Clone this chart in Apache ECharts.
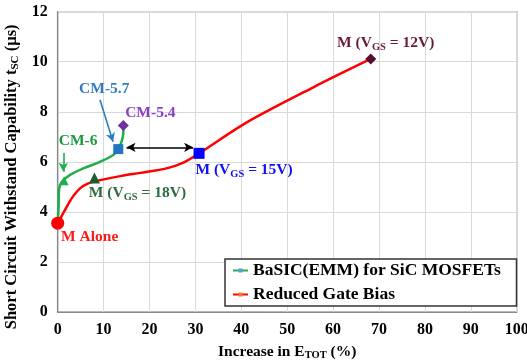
<!DOCTYPE html>
<html>
<head>
<meta charset="utf-8">
<script src="https://cdn.jsdelivr.net/npm/echarts@6/dist/echarts.min.js"></script>
<style>
  html, body { margin: 0; padding: 0; background: #fff; }
  #chart { width: 527px; height: 361px; }
</style>
</head>
<body>
<div id="chart"></div>
<script>
// Short-circuit withstand time vs. increase in total switching energy
const FONT = '"Liberation Serif", "Times New Roman", serif';

const xTicks = { min: 0, max: 100, interval: 10 };
const yTicks = { min: 0, max: 12, interval: 2 };

// BaSIC(EMM) curve: M alone -> CM-6 -> CM-5.7 -> CM-5.4
const basicCurve = [
  [0, 3.55], [0.2, 4.2], [0.3, 4.9], [0.9, 5.2], [2.7, 5.48], [5.6, 5.74],
  [9.2, 6.0], [12.1, 6.27], [13.2, 6.51], [13.9, 6.8], [14.3, 7.15], [14.3, 7.45]
];

// Reduced gate bias curve: M alone -> 18 V -> 15 V -> 12 V
const gateBiasCurve = [
  [0, 3.55], [1.6, 4.08], [3.05, 4.54], [4.86, 4.94], [6.67, 5.14], [8.78, 5.25],
  [13.9, 5.44], [18.0, 5.56], [23.7, 5.74], [27.5, 5.98], [30.8, 6.34],
  [41.2, 7.58], [55.7, 8.98], [68.2, 10.11]
];

// Named operating points
const pointNames  = ['M Alone', 'CM-6', 'CM-5.7', 'CM-5.4', 'M18', 'M15', 'M12'];
const pointValues = [[0, 3.55], [1.4, 5.24], [13.2, 6.51], [14.3, 7.45], [8.0, 5.35], [30.8, 6.34], [68.2, 10.11]];
const pointLabels = [
  'M Alone', 'CM-6', 'CM-5.7', 'CM-5.4',
  'M (V{s|GS} = 18V)', 'M (V{s|GS} = 15V)', 'M (V{s|GS} = 12V)'
];

// Arrows: [start, end]
const arrowCM57 = [[9.2, 8.48], [12.07, 6.8]];
const arrowCM6  = [[1.22, 6.35], [1.22, 5.6]];
const arrowGap  = [[15.0, 6.58], [29.5, 6.58]];

const legendNames = ['BaSIC(EMM) for SiC MOSFETs', 'Reduced Gate Bias'];

const pointStyle = {
  'M Alone': { symbol: 'circle',   size: 13, color: '#ff0000', text: '#ff1a1a', offset: [32, 14] },
  'CM-6':    { symbol: 'triangle', size: 9,  color: '#1fae4e', text: '#1a9a3c', offset: [14, -40] },
  'CM-5.7':  { symbol: 'rect',     size: 10, color: '#1f77c0', text: '#2e7dc0', offset: [-14, -60] },
  'CM-5.4':  { symbol: 'diamond',  size: 11, color: '#7030a0', text: '#8a3cc8', offset: [27, -13] },
  'M18':     { symbol: 'triangle', size: 11, color: '#1e5a32', text: '#2f6b3f', offset: [43, 15] },
  'M15':     { symbol: 'rect',     size: 11, color: '#0000ff', text: '#1010f0', offset: [45, 17] },
  'M12':     { symbol: 'diamond',  size: 11, color: '#5a0a30', text: '#6a1a3a', offset: [15, -16] }
};

function subRich(color, size) {
  return {
    s: { fontSize: size, fontWeight: 'bold', fontFamily: FONT, color: color, verticalAlign: 'bottom', lineHeight: size }
  };
}

const pointSeries = pointNames.map((name, i) => {
  const st = pointStyle[name];
  return {
    type: 'scatter',
    name: name,
    data: [pointValues[i]],
    symbol: st.symbol,
    symbolSize: st.size,
    itemStyle: { color: st.color, opacity: 1 },
    z: 5,
    label: {
      show: true,
      formatter: pointLabels[i],
      position: 'inside',
      offset: st.offset,
      color: st.text,
      fontFamily: FONT,
      fontWeight: 'bold',
      fontSize: 15.5,
      lineHeight: 19,
      rich: subRich(st.text, 10.5)
    }
  };
});

function arrowLine(pair, color, bothEnds) {
  return [
    { coord: pair[0], symbol: bothEnds ? 'arrow' : 'none', symbolSize: [7, 9], lineStyle: { color: color, width: 1.6, type: 'solid' } },
    { coord: pair[1], symbol: 'arrow', symbolSize: [7, 9] }
  ];
}

const chart = echarts.init(document.getElementById('chart'));
chart.setOption({
  animation: false,
  backgroundColor: '#fff',
  grid: {
    left: 57.7, right: 10.3, top: 11.7, bottom: 49,
    outerBoundsMode: 'none',
    containLabel: false,
    show: true, borderColor: '#6e6e6e', borderWidth: 1.2, backgroundColor: 'transparent'
  },
  xAxis: {
    type: 'value',
    min: xTicks.min, max: xTicks.max, interval: xTicks.interval,
    name: 'Increase in E{s|TOT} (%)',
    nameLocation: 'middle',
    nameGap: 25,
    nameTextStyle: {
      fontFamily: FONT, fontWeight: 'bold', fontSize: 15.5, color: '#000', lineHeight: 18,
      rich: subRich('#000', 10.5)
    },
    axisLine: { show: true, lineStyle: { color: '#8a8a8a', width: 1.2 } },
    axisTick: { show: false },
    axisLabel: { fontFamily: FONT, fontWeight: 'bold', fontSize: 16, color: '#000', margin: 10 },
    splitLine: { show: true, lineStyle: { color: '#d9d9d9', width: 1 } }
  },
  yAxis: {
    type: 'value',
    min: yTicks.min, max: yTicks.max, interval: yTicks.interval,
    name: 'Short Circuit Withstand Capability t{s|SC} (µs)',
    nameLocation: 'middle',
    nameRotate: 90,
    nameGap: 30,
    nameTextStyle: {
      fontFamily: FONT, fontWeight: 'bold', fontSize: 16.5, color: '#000', lineHeight: 19,
      padding: [0, 30, 0, 0],
      rich: subRich('#000', 11)
    },
    axisLine: { show: true, lineStyle: { color: '#8a8a8a', width: 1.2 } },
    axisTick: { show: false },
    axisLabel: { fontFamily: FONT, fontWeight: 'bold', fontSize: 16, color: '#000', margin: 10 },
    splitLine: { show: true, lineStyle: { color: '#d9d9d9', width: 1 } }
  },
  legend: {
    data: legendNames,
    orient: 'vertical',
    left: 232, top: 261.5,
    padding: 0,
    itemGap: 6,
    itemWidth: 15,
    itemHeight: 5,
    z: 10,
    textStyle: { fontFamily: FONT, fontWeight: 'bold', fontSize: 17.5, color: '#000' }
  },
  graphic: [{
    type: 'rect',
    z: 5,
    shape: { x: 225, y: 259, width: 291.5, height: 47 },
    style: { fill: '#fff', stroke: '#333', lineWidth: 1.5 }
  }],
  series: [
    {
      type: 'line',
      name: legendNames[0],
      data: basicCurve,
      smooth: 0.35,
      showSymbol: false,
      symbol: 'rect',
      itemStyle: { color: '#5b9bd5' },
      lineStyle: { color: '#1fae4e', width: 2.5 },
      z: 3,
      markLine: {
        silent: true,
        animation: false,
        label: { show: false },
        data: [
          arrowLine(arrowCM57, '#2e7dc0', false),
          arrowLine(arrowCM6, '#1fae4e', false),
          arrowLine(arrowGap, '#000', true)
        ]
      }
    },
    {
      type: 'line',
      name: legendNames[1],
      data: gateBiasCurve,
      smooth: 0.3,
      showSymbol: false,
      symbol: 'rect',
      itemStyle: { color: '#ed7d31' },
      lineStyle: { color: '#ff0000', width: 2.5 },
      z: 3
    }
  ].concat(pointSeries)
});
</script>
</body>
</html>
